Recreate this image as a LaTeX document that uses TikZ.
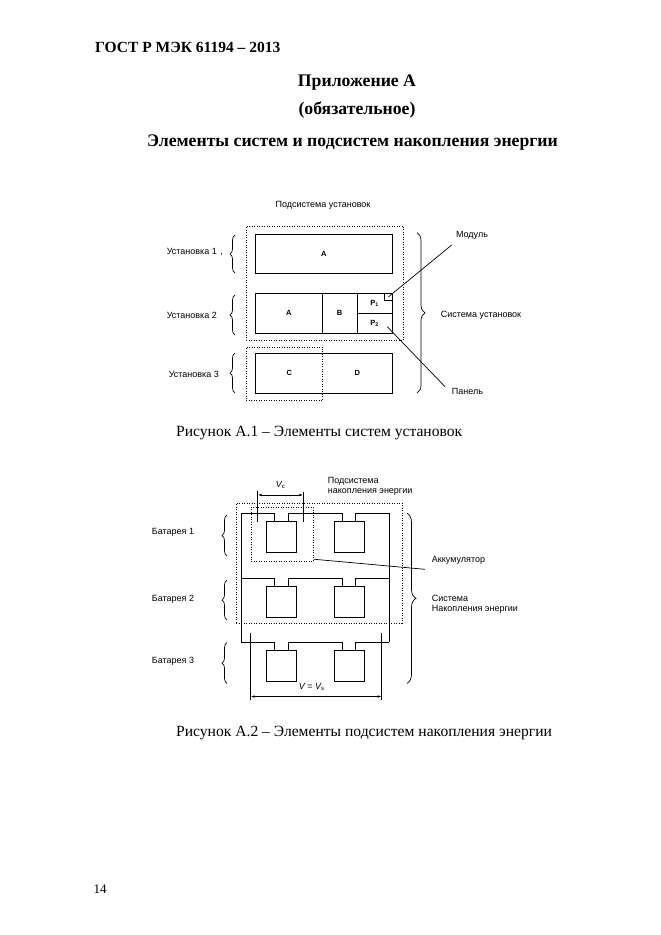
\documentclass[tikz,border=0pt]{standalone}
\usepackage{fontspec}
\setmainfont{Liberation Serif}
\newfontfamily\dg{Liberation Sans}
\usetikzlibrary{decorations.pathreplacing,arrows.meta}
\begin{document}
\begin{tikzpicture}[x=1pt,y=-1pt,
  ln/.style={line width=0.8pt},
  dt/.style={line width=0.9pt, dash pattern=on 0.9pt off 1.6pt},
  box/.style={draw, line width=0.8pt, inner sep=0pt, anchor=north west},
  dbox/.style={draw, dt, inner sep=0pt, anchor=north west},
  cell/.style={draw, line width=0.8pt, inner sep=0pt, anchor=north, minimum width=30pt, minimum height=31pt},
  lbl/.style={font=\dg\fontsize{9}{10}\selectfont, inner sep=0pt},
  blet/.style={font=\dg\bfseries\fontsize{7.5}{8}\selectfont, inner sep=0pt},
  hd/.style={font=\bfseries\fontsize{17.7}{20}\selectfont, inner sep=0pt},
  captxt/.style={font=\fontsize{15.6}{18}\selectfont, inner sep=0pt},
  brc/.style={decorate, decoration={brace, amplitude=#1}, line width=0.7pt},
  dim/.style={line width=0.7pt, {Latex[length=4pt,width=2.5pt]}-{Latex[length=4pt,width=2.5pt]}}
]
\useasboundingbox (0,0) rectangle (661,935);
\fill[white] (0,0) rectangle (661,935);

% headings
\node[hd, font=\bfseries\fontsize{15.5}{18}\selectfont, anchor=west] (gost) at (95,47) {ГОСТ Р МЭК 61194 – 2013};
\node[hd] (pril) at (357,82.5) {Приложение А};
\node[hd] (obyaz) at (357,110.5) {(обязательное)};
\node[hd] (title) at (352.5,143) {Элементы систем и подсистем накопления энергии};

% ---------- Figure A.1 ----------
\node[lbl] (ps) at (323,205) {Подсистема установок};
\node[dbox, minimum width=157.3pt, minimum height=114.3pt] (sub1) at (245.7,225.7) {};

\node[box, minimum width=136.7pt, minimum height=39pt, blet] (A1) at (255,234) {A};

\node[box, minimum width=66.7pt, minimum height=40pt, blet] (A2) at (255,293) {A};
\node[box, minimum width=35pt, minimum height=40pt, blet] (B2) at (321.7,293) {B};
\node[box, minimum width=35pt, minimum height=20.3pt, blet] (P1) at (356.7,293) {P\textsubscript{1}};
\node[box, minimum width=35pt, minimum height=19.7pt, blet] (P2) at (356.7,313.3) {P\textsubscript{2}};
\node[box, minimum width=7.4pt, minimum height=7pt] (mod) at (384.3,293) {};

\node[box, minimum width=136.7pt, minimum height=40pt] (r3) at (255,353.3) {};
\node[dbox, minimum width=76.6pt, minimum height=53.3pt] (sub3) at (245.7,346.7) {};
\node[blet] (C3) at (289.3,373.3) {C};
\node[blet] (D3) at (357.3,373.3) {D};

\draw[brc=5pt] (235,273) -- (235,235);
\draw[brc=5pt] (235,335) -- (235,295);
\draw[brc=5pt] (235,393) -- (235,353);
\node[lbl, anchor=east] (u1) at (217,251.7) {Установка 1};
\node[lbl] (u1c) at (221.7,255) {,};
\node[lbl, anchor=east] (u2) at (217,315) {Установка 2};
\node[lbl, anchor=east] (u3) at (219,374) {Установка 3};

\draw[brc=8pt] (417,232.7) -- (417,393);
\node[lbl] (sys1) at (481,315) {Система установок};
\node[lbl] (modl) at (472,235) {Модуль};
\node[lbl] (pan) at (467.5,391.7) {Панель};
\coordinate (modE) at (451.7,245);
\coordinate (panE) at (445,386.7);
\coordinate (panS) at (387.3,326.7);
\draw[line width=0.7pt] (modE) -- (mod.center);
\draw[line width=0.7pt] (panS) -- (panE);

\node[captxt, anchor=west] (cap1) at (176,433) {Рисунок А.1 – Элементы систем установок};

% ---------- Figure A.2 ----------
\node[lbl, anchor=west] (ps2a) at (327.7,481) {Подсистема};
\node[lbl, anchor=west] (ps2b) at (327.7,492.3) {накопления энергии};

\node[dbox, minimum width=165.7pt, minimum height=120pt] (sub2) at (236,502.7) {};
\node[dbox, minimum width=62pt, minimum height=54pt] (acc) at (250.7,506.7) {};

\foreach \i/\r in {1/513.3,2/578.3,3/642.3} {
  \node[cell] (c\i a) at (281.7,\r+8) {};
  \node[cell] (c\i b) at (349.2,\r+8) {};
  \draw[ln] (241,\r) -| ([xshift=-7pt]c\i a.north);
  \draw[ln] ([xshift=6.5pt]c\i a.north) -- ++(0,-8) -| ([xshift=-6.5pt]c\i b.north);
  \draw[ln] ([xshift=6.5pt]c\i b.north) -- ++(0,-8) -- (389.3,\r);
}
\coordinate (lt) at (241,513.3);
\coordinate (lb) at (241,642.3);
\coordinate (rt) at (389.3,513.3);
\coordinate (rb) at (389.3,642.3);
\draw[ln] (lt) -- (lb);
\draw[ln] (rt) -- (rb);

% Vc dimension
\coordinate (vcLt) at (257.7,490.7);
\coordinate (vcLb) at (257.7,521.7);
\coordinate (vcRt) at (303.3,491.7);
\coordinate (vcRb) at (303.3,521.7);
\draw[line width=0.7pt] (vcLt) -- (vcLb);
\draw[line width=0.7pt] (vcRt) -- (vcRb);
\coordinate (vcA) at (257.7,495);
\coordinate (vcB) at (303.3,495);
\draw[dim] (vcA) -- (vcB);
\node[lbl] (vc) at (280.7,485) {\itshape V\textsubscript{\upshape c}};

% V = Vs dimension
\coordinate (vsLt) at (250.7,633.3);
\coordinate (vsLb) at (250.7,700);
\coordinate (vsRt) at (381.7,633.3);
\coordinate (vsRb) at (381.7,700);
\draw[line width=0.7pt] (vsLt) -- (vsLb);
\draw[line width=0.7pt] (vsRt) -- (vsRb);
\coordinate (vsA) at (250.7,696.5);
\coordinate (vsB) at (381.7,696.5);
\draw[dim] (vsA) -- (vsB);
\node[lbl] (vs) at (311.7,686.7) {\itshape V\upshape{} = \itshape V\textsubscript{\upshape s}};

% braces and labels
\draw[brc=5pt] (227,556) -- (227,515);
\draw[brc=5pt] (227,620) -- (227,580);
\draw[brc=5pt] (227,683.3) -- (227,642.7);
\node[lbl, anchor=west] (b1) at (151.7,532.7) {Батарея 1};
\node[lbl, anchor=west] (b2) at (151.7,599.3) {Батарея 2};
\node[lbl, anchor=west] (b3) at (151.7,661) {Батарея 3};

\draw[brc=9pt] (407,513.3) -- (407,683.3);
\node[lbl, anchor=west] (accl) at (431.7,560.7) {Аккумулятор};
\node[lbl, anchor=west] (sys2a) at (431.7,598.3) {Система};
\node[lbl, anchor=west] (sys2b) at (431.7,609.3) {Накопления энергии};
\coordinate (accS) at ([yshift=2.4pt]acc.south east);
\coordinate (accE) at (425,569.3);
\draw[line width=0.7pt] (accS) -- (accE);

\node[captxt, anchor=west] (cap2) at (176,733) {Рисунок А.2 – Элементы подсистем накопления энергии};

\node[captxt, font=\fontsize{13}{15}\selectfont] (pg) at (100,889) {14};
\end{tikzpicture}
\end{document}
